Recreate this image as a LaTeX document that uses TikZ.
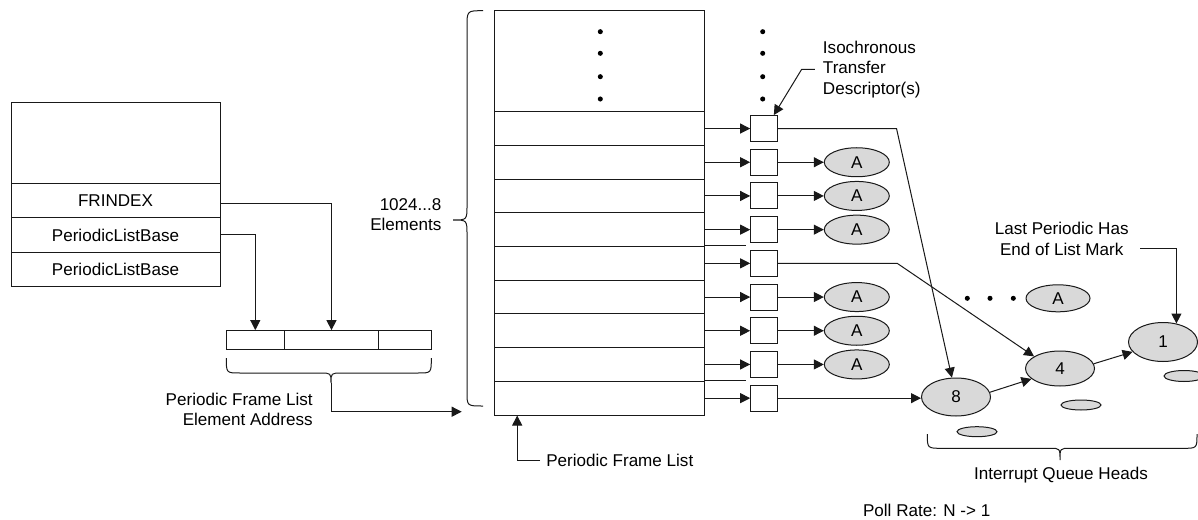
\documentclass[tikz,border=0pt]{standalone}
\usepackage{fontspec}
\setmainfont{Liberation Sans}
\usetikzlibrary{arrows.meta,shapes.geometric,calc}
\begin{document}
\begin{tikzpicture}[x=0.75pt,y=-0.75pt,
  every node/.style={font=\fontsize{12.8}{15.5}\selectfont},
  ln/.style={draw=black!90,line width=0.75pt},
  arr/.style={ln,-{Triangle[length=7.5pt,width=7.5pt]}},
  cell/.style={draw=black!90,line width=0.75pt,rectangle,inner sep=0pt,minimum width=157pt,minimum height=25.3pt},
  reg/.style={draw=black!90,line width=0.75pt,rectangle,inner sep=0pt,minimum width=156.75pt,minimum height=25.5pt},
  adr/.style={draw=black!90,line width=0.75pt,rectangle,inner sep=0pt,minimum height=14.5pt},
  td/.style={draw=black!90,line width=0.75pt,rectangle,inner sep=0pt,minimum width=20pt,minimum height=19.5pt,fill=white},
  qa/.style={draw=black!90,line width=0.75pt,ellipse,fill=black!15,inner sep=0pt,minimum width=48.75pt,minimum height=21.75pt},
  qh/.style={draw=black!90,line width=0.75pt,ellipse,fill=black!15,inner sep=0pt,minimum width=51.75pt,minimum height=28pt},
  qs/.style={draw=black!90,line width=0.75pt,ellipse,fill=black!15,inner sep=0pt,minimum width=30pt,minimum height=7.5pt},
  txt/.style={inner sep=0pt,align=center},
]
\useasboundingbox[fill=white] (0,0) rectangle (1198,520);

% register block
\node[reg,minimum height=60.75pt] (regtop) at (115.5,143.5) {};
\node[reg] (frindex) at (115.5,201) {FRINDEX};
\node[reg] (plbA) at (115.5,235) {PeriodicListBase};
\node[reg] (plbB) at (115.5,269) {PeriodicListBase};

% address
\node[adr,minimum width=43.5pt] (adA) at (255.3,340.3) {};
\node[adr,minimum width=70.8pt] (adB) at (331.5,340.3) {};
\node[adr,minimum width=39.45pt] (adC) at (405,340.3) {};
\draw[arr] ([yshift=-2pt]frindex.east) -| (adB.north);
\draw[arr] (plbA.east) -| (adA.north);

% small brace
\draw[ln] (226.3,358) .. controls (226.3,373) .. (240,373) -- (320,373) .. controls (331,373) .. (331,383) .. controls (331,373) .. (342,373) -- (418,373) .. controls (431.3,373) .. (431.3,358);
\coordinate (abrace) at (331,383);
\coordinate (pflin) at (461.7,411.7);
\draw[arr] (abrace) |- (pflin);
\node[txt,align=right,anchor=east] (pfeaddr) at (313,409.5) {Periodic Frame List\\Element Address};

% big brace
\draw[ln] (483,10.7) .. controls (467,10.7) .. (467,27) -- (467,205) .. controls (467,220) .. (453,220) .. controls (467,220) .. (467,235) -- (467,392) .. controls (467,406) .. (483,406);
\node[txt,align=right,anchor=east] (elems) at (441.7,214.5) {1024...8\\Elements};

% frame list
\node[cell,minimum height=75.75pt] (fltop) at (599.65,61.2) {};
\foreach \i in {1,...,9}{
  \node[cell] (r\i) at (599.65,{128.55+33.7*(\i-1)}) {};
  \node[td] (t\i) at (764,{128.55+33.7*(\i-1)}) {};
  \draw[arr] (r\i.east) -- (t\i.west);
}
\foreach \y in {31.7,53.3,76.7,99}{
  \fill (600.3,\y) circle[radius=1.9pt];
  \fill (762.7,\y) circle[radius=1.9pt];
}
\draw[ln] (r5.north east) -- ++(41,0);
\draw[ln] (r9.north east) -- ++(41,0);

\foreach \i in {2,3,4,6,7,8}{
  \node[qa] (a\i) at (856.8,{128.55+33.7*(\i-1)}) {A};
  \draw[arr] (t\i.east) -- (a\i.west);
}

% queue heads
\node[qh,minimum height=28.5pt] (q8) at (956,397) {8};
\node[qh,minimum height=26.25pt] (q4) at (1060,368.5) {4};
\node[qh,minimum height=29.25pt] (q1) at (1163,342) {1};
\node[qs] (s8) at (977,431.7) {};
\node[qs] (s4) at (1081,405) {};
\node[qs,minimum height=8.25pt] (s1) at (1184,376) {};

\draw[arr] (t1.east) -- ++(118.7,0) -- (q8.102);
\draw[arr] (t5.east) -- ++(119.4,0) -- (q4.155);
\draw[arr] (t9.east) -- (t9.east -| q8.west);
\draw[arr] (q8.8) -- (q4.200);
\draw[arr] (q4.8) -- (q1.198);

\foreach \x in {967.3,990,1013.3}{ \fill (\x,298.3) circle[radius=1.9pt]; }
\node[qa,minimum width=48pt,minimum height=20.25pt] (adots) at (1058,298.3) {A};

% interrupt brace
\draw[ln] (927.3,434) .. controls (927.3,448.3) .. (942,448.3) -- (1050,448.3) .. controls (1060,448.3) .. (1060,460) .. controls (1060,448.3) .. (1070,448.3) -- (1183,448.3) .. controls (1197,448.3) .. (1197,434);
\node[txt] (iqh) at (1061,475) {Interrupt Queue Heads};
\node[txt] (poll) at (926.7,510) {Poll Rate: N -> 1};

% labels with leaders
\node[txt] (lastl) at (1061.7,239) {Last Periodic Has\\End of List Mark};
\coordinate (lm) at (1140,248);
\draw[arr] (lm) -| (q1.54);

\node[txt,align=left,anchor=west] (iso) at (822.7,69.3) {Isochronous\\Transfer\\Descriptor(s)};
\draw[arr] ([xshift=-5.8pt]iso.west) -- ++(-13.3,0) -- ([xshift=-3pt]t1.north east);

\node[txt,anchor=west] (pfl) at (546,460) {Periodic Frame List};
\draw[arr] ([xshift=-4.5pt]pfl.west) -| ($(r9.south west)+(22.7,0)$);
\end{tikzpicture}
\end{document}
